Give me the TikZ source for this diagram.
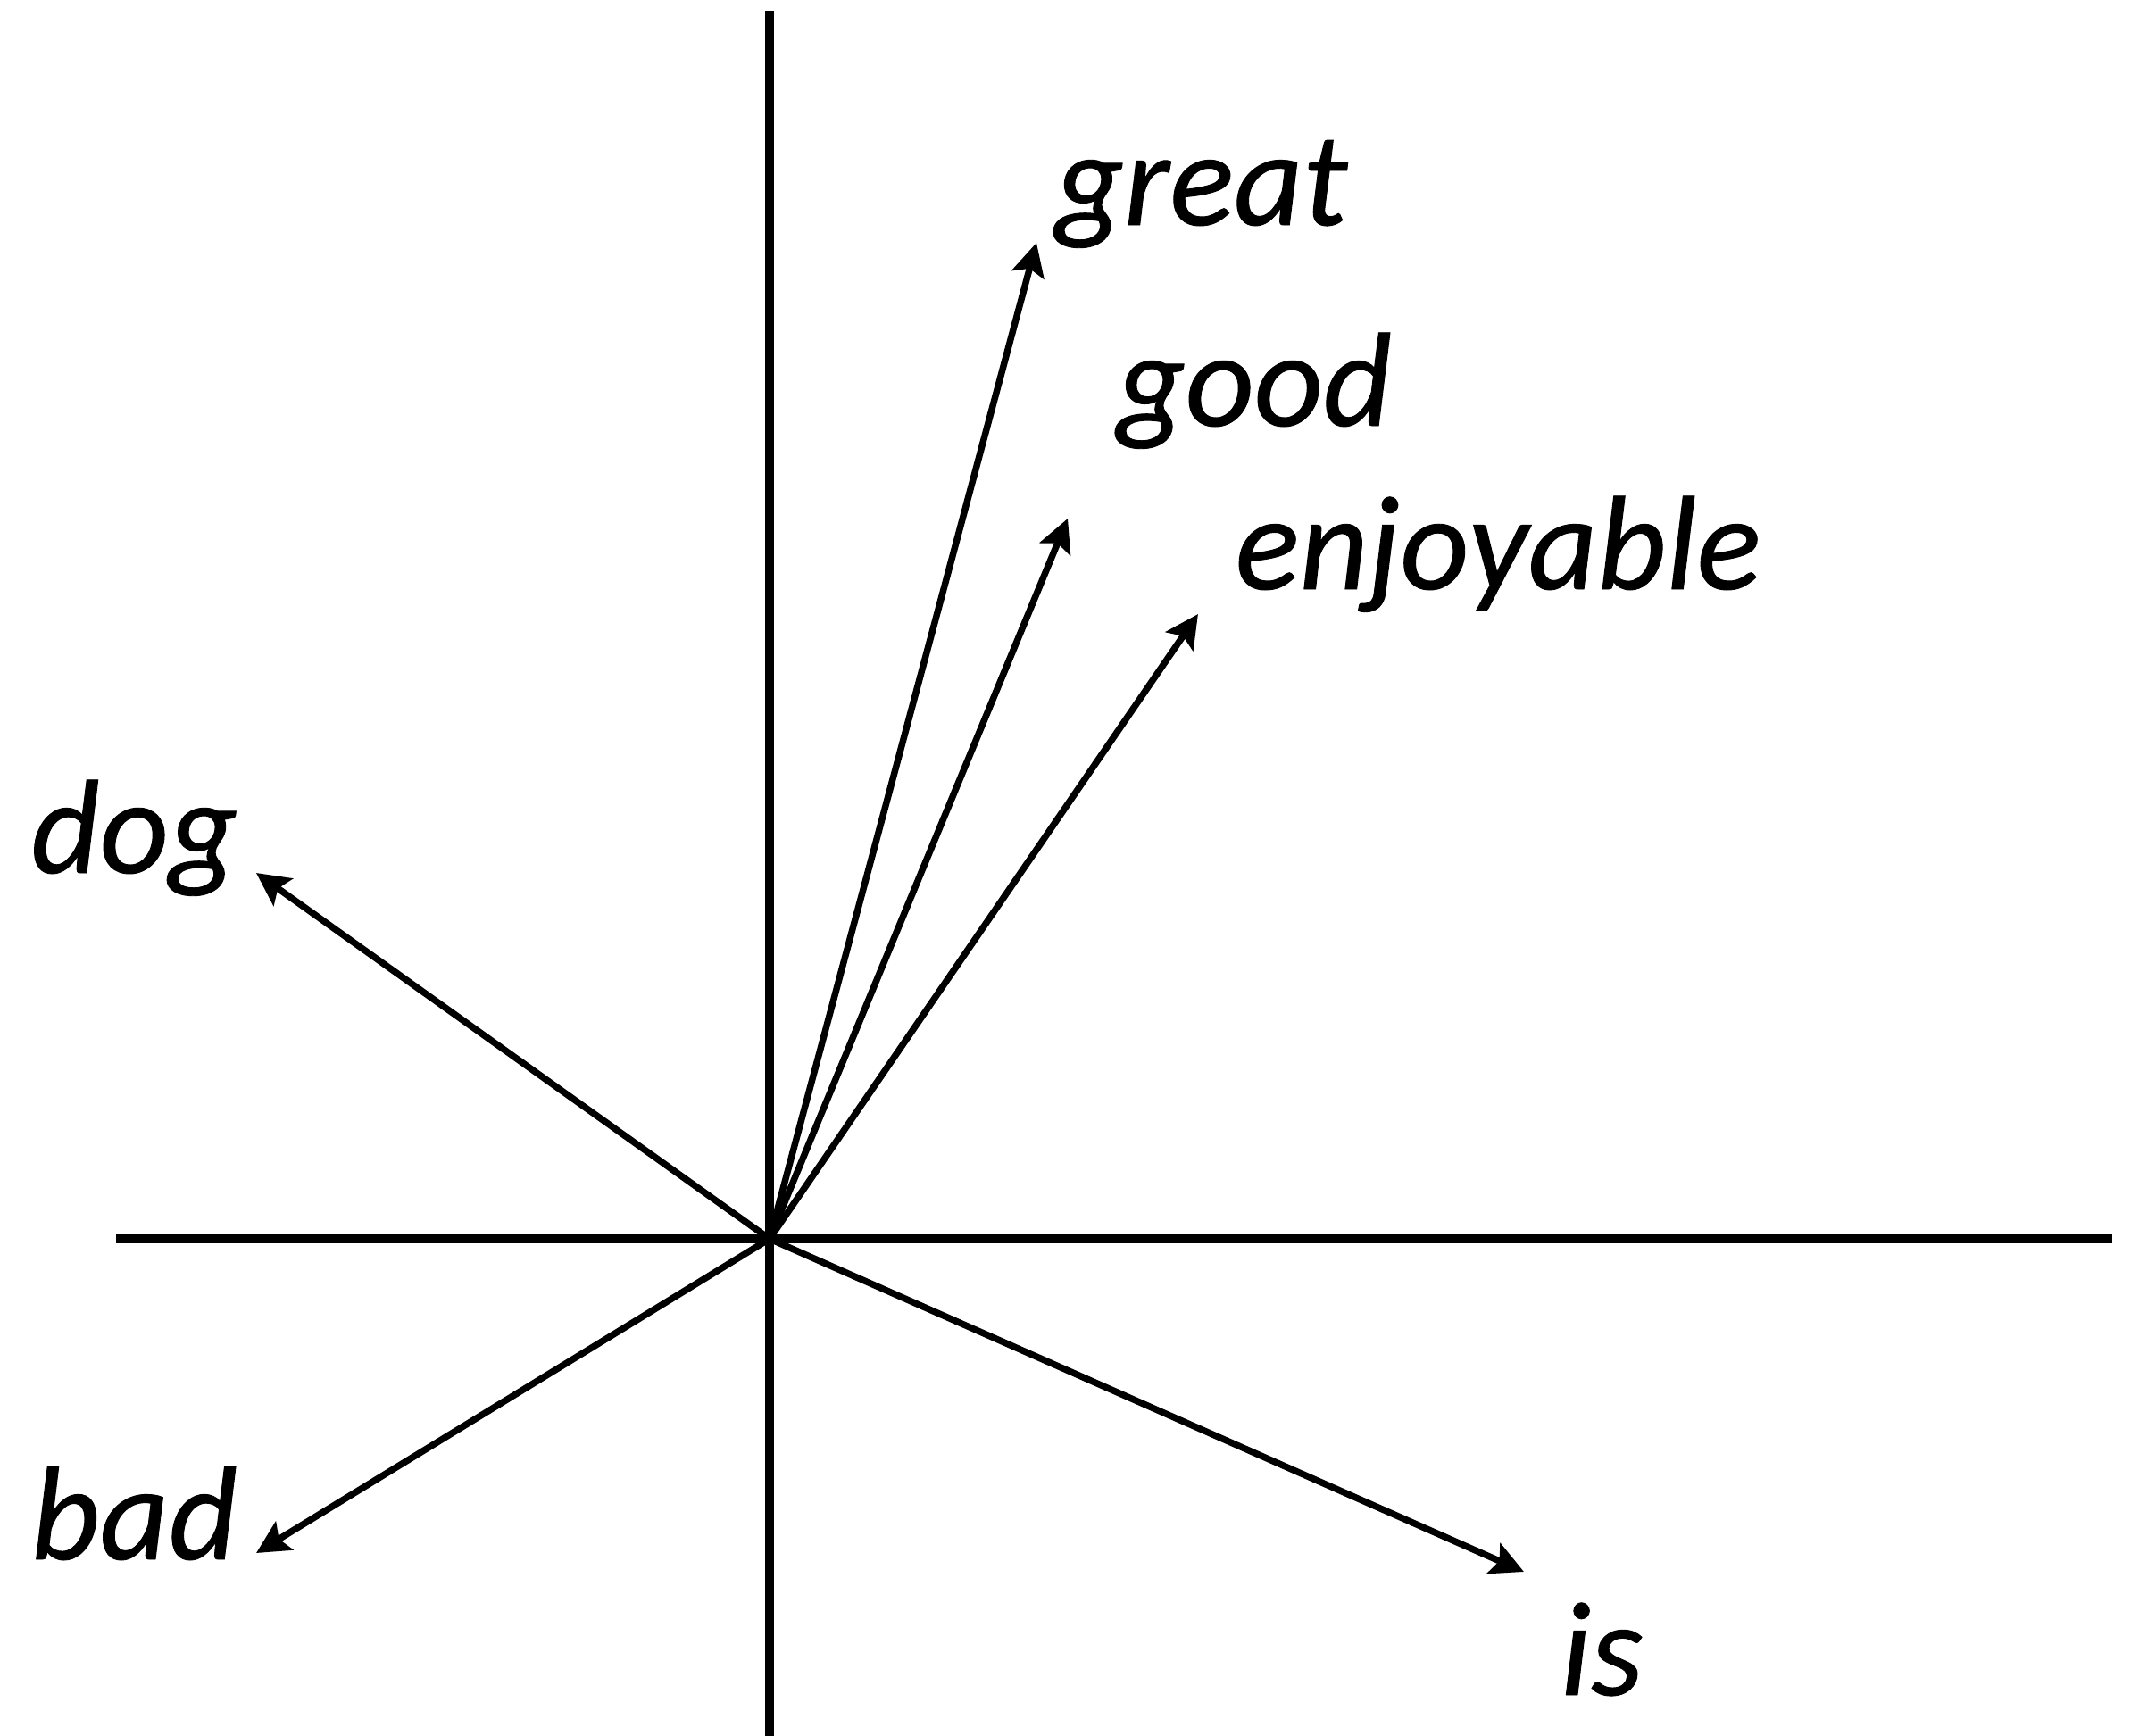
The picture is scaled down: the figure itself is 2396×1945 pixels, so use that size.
\documentclass[tikz,border=0pt]{standalone}
\usepackage{fontspec}
\setmainfont{Carlito}
\newfontfamily\wordfont[FakeBold=0.6]{Carlito}
\usetikzlibrary{arrows.meta}
\begin{document}
\begin{tikzpicture}[x=0.01cm,y=-0.01cm,
  axis/.style={line width=3pt},
  vec/.style={line width=2.1pt,-{Stealth[length=10.5pt,width=10.5pt,inset=2pt]}},
  word/.style={font=\wordfont\fontsize{42.7}{50}\selectfont\itshape, inner sep=0pt, anchor=base west}]
\useasboundingbox (0,0) rectangle (2396,1945);
\coordinate (O) at (862,1388);
\coordinate (vtop) at (862,12);
\coordinate (vbot) at (862,1945);
\coordinate (hl) at (130,1388);
\coordinate (hr) at (2366,1388);
\draw[axis] (vtop) -- (vbot);
\draw[axis] (hl) -- (hr);
\coordinate (tgreat) at (1161,272);
\coordinate (tgood) at (1196,581);
\coordinate (tenjoy) at (1342,688);
\coordinate (tdog) at (287,978);
\coordinate (tbad) at (287,1740);
\coordinate (tis) at (1707,1761);
\draw[vec] (O) -- (tgreat);
\draw[vec] (O) -- (tgood);
\draw[vec] (O) -- (tenjoy);
\draw[vec] (O) -- (tdog);
\draw[vec] (O) -- (tbad);
\draw[vec] (O) -- (tis);
\node[word] (great) at (1181,252) {great};
\node[word] (good) at (1250,477) {good};
\node[word] (enjoyable) at (1383,660) {enjoyable};
\node[word] (dog) at (34,978) {dog};
\node[word] (bad) at (34,1747) {bad};
\node[word] (is) at (1747,1899) {is};
\end{tikzpicture}
\end{document}
